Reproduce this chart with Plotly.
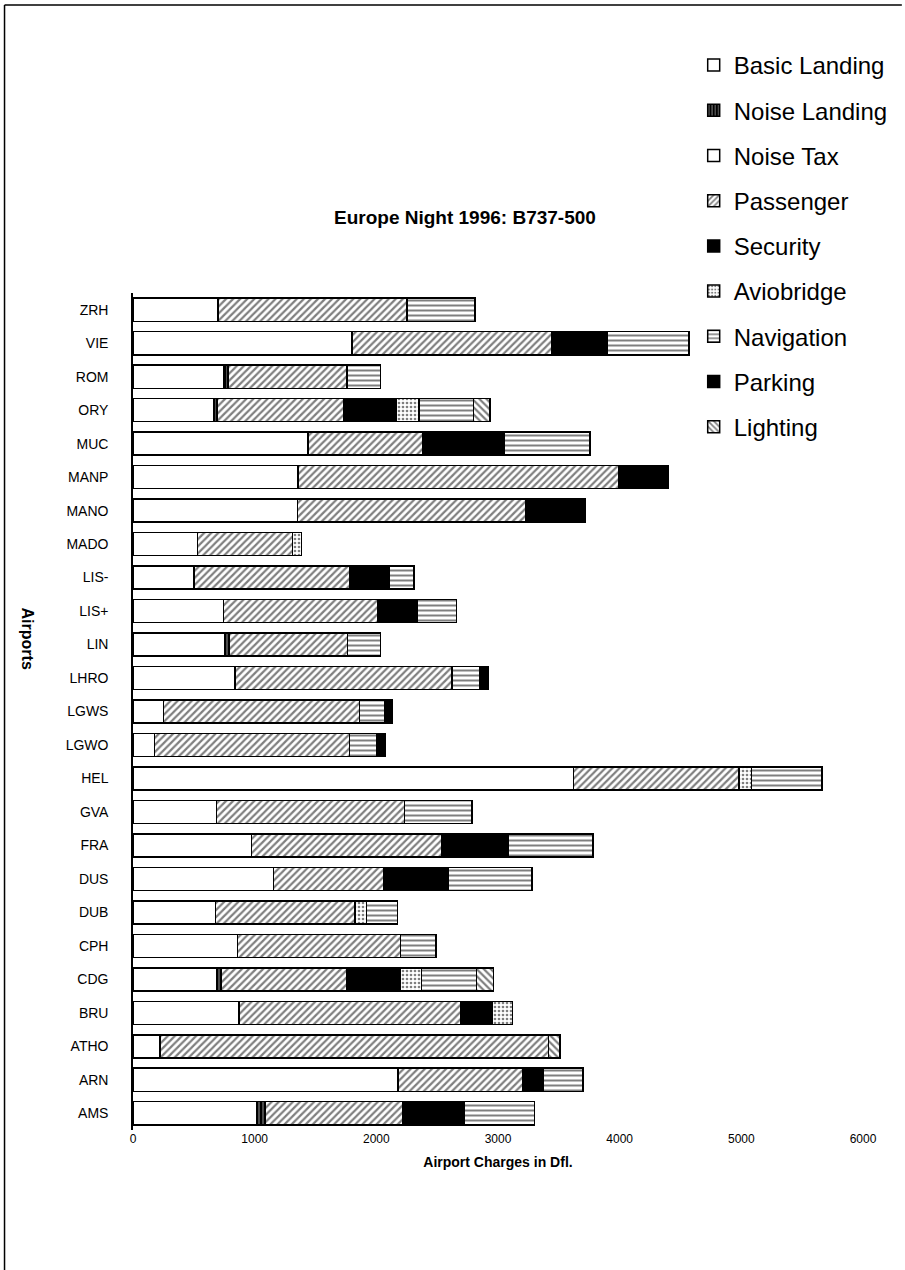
import plotly.graph_objects as go

airports = ["AMS", "ARN", "ATHO", "BRU", "CDG", "CPH", "DUB", "DUS", "FRA", "GVA",
            "HEL", "LGWO", "LGWS", "LHRO", "LIN", "LIS+", "LIS-", "MADO", "MANO",
            "MANP", "MUC", "ORY", "ROM", "VIE", "ZRH"]

basic_landing = [1020, 2180, 220, 870, 690, 860, 680, 1155, 975, 685,
                 3620, 175, 250, 840, 750, 745, 500, 530, 1350,
                 1355, 1440, 665, 745, 1800, 700]
noise_landing = [65, 0, 0, 0, 35, 0, 0, 0, 0, 0,
                 0, 0, 0, 0, 40, 0, 0, 0, 0,
                 0, 0, 30, 35, 0, 0]
noise_tax = [0, 0, 0, 0, 0, 0, 0, 0, 0, 0,
             0, 0, 0, 0, 0, 0, 0, 0, 0,
             0, 0, 0, 0, 0, 0]
passenger = [1135, 1020, 3195, 1820, 1030, 1340, 1145, 905, 1565, 1545,
             1360, 1605, 1610, 1780, 975, 1265, 1280, 780, 1875,
             2635, 945, 1035, 980, 1645, 1550]
security = [500, 170, 0, 260, 440, 0, 0, 530, 545, 0,
            0, 0, 0, 0, 0, 330, 330, 0, 495,
            410, 670, 430, 0, 455, 0]
aviobridge = [0, 0, 0, 170, 175, 0, 95, 0, 0, 0,
              105, 0, 0, 0, 0, 0, 0, 75, 0,
              0, 0, 190, 0, 0, 0]
navigation = [580, 330, 0, 0, 455, 290, 255, 690, 695, 555,
              580, 225, 210, 230, 270, 320, 200, 0, 0,
              0, 700, 450, 275, 670, 560]
parking = [0, 0, 0, 0, 0, 0, 0, 0, 0, 0,
           0, 65, 60, 70, 0, 0, 0, 0, 0,
           0, 0, 0, 0, 0, 0]
lighting = [0, 0, 95, 0, 140, 0, 0, 0, 0, 0,
            0, 0, 0, 0, 0, 0, 0, 0, 0,
            0, 0, 135, 0, 0, 0]

x_ticks = [0, 1000, 2000, 3000, 4000, 5000, 6000]

series = [
    ("Basic Landing", basic_landing, dict(color="white")),
    ("Noise Landing", noise_landing, dict(color="black", pattern=dict(shape="|", fgcolor="white", bgcolor="black", size=4, solidity=0.3))),
    ("Noise Tax", noise_tax, dict(color="white")),
    ("Passenger", passenger, dict(color="white", pattern=dict(shape="/", fgcolor="black", bgcolor="white", size=5, solidity=0.45))),
    ("Security", security, dict(color="black")),
    ("Aviobridge", aviobridge, dict(color="white", pattern=dict(shape=".", fgcolor="black", bgcolor="white", size=4, solidity=0.35))),
    ("Navigation", navigation, dict(color="white", pattern=dict(shape="-", fgcolor="black", bgcolor="white", size=5, solidity=0.4))),
    ("Parking", parking, dict(color="black")),
    ("Lighting", lighting, dict(color="white", pattern=dict(shape="\\", fgcolor="black", bgcolor="white", size=5, solidity=0.45))),
]

fig = go.Figure()
for name, vals, mk in series:
    marker = dict(mk)
    marker["line"] = dict(color="black", width=1.5)
    fig.add_trace(go.Bar(
        y=airports, x=vals, name=name, orientation="h",
        marker=marker, legendgroup=name,
    ))

L, R, T, B = 133, 39, 293, 140
W, H = 905, 1270
pw = W - L - R
ph = H - T - B

def px2x(p):
    return (p - L) / pw

def px2y(p):
    return (H - B - p) / ph

FONT = "Liberation Sans, Arial, sans-serif"

fig.update_layout(
    width=W, height=H,
    margin=dict(l=L, r=R, t=T, b=B),
    paper_bgcolor="white", plot_bgcolor="white",
    barmode="stack", bargap=0.31,
    font=dict(family=FONT, color="black"),
    showlegend=True,
    legend=dict(
        x=px2x(696), y=px2y(43), xanchor="left", yanchor="top",
        font=dict(size=24, family=FONT),
        traceorder="grouped", tracegroupgap=11,
        bgcolor="rgba(0,0,0,0)", itemwidth=30,
    ),
    xaxis=dict(
        range=[0, 6000], tickvals=x_ticks, showgrid=False, zeroline=False,
        showline=False, ticks="", tickfont=dict(size=12),
        title=dict(text="<b>Airport Charges in Dfl.</b>", font=dict(size=14), standoff=12),
    ),
    yaxis=dict(
        type="category", categoryorder="array", categoryarray=airports,
        showgrid=False, zeroline=False, showline=True, linecolor="black", linewidth=1.5,
        ticks="", tickfont=dict(size=14), ticklabelstandoff=20,
    ),
    annotations=[
        dict(text="<b>Europe Night 1996: B737-500</b>", x=px2x(466), y=px2y(218),
             xref="paper", yref="paper", showarrow=False, font=dict(size=19),
             xanchor="center", yanchor="middle"),
        dict(text="<b>Airports</b>", x=px2x(28), y=px2y(639), xref="paper", yref="paper",
             showarrow=False, textangle=90, font=dict(size=16),
             xanchor="center", yanchor="middle"),
    ],
    shapes=[
        dict(type="line", xref="paper", yref="paper", x0=px2x(4), x1=px2x(905),
             y0=px2y(5), y1=px2y(5), line=dict(color="black", width=1.5)),
        dict(type="line", xref="paper", yref="paper", x0=px2x(4), x1=px2x(4),
             y0=px2y(5), y1=px2y(1270), line=dict(color="black", width=1.5)),
    ],
)

fig.write_html(
    "out.html",
    config={"displayModeBar": False},
    post_script="document.body.style.margin='0';document.body.style.overflow='hidden';",
)
